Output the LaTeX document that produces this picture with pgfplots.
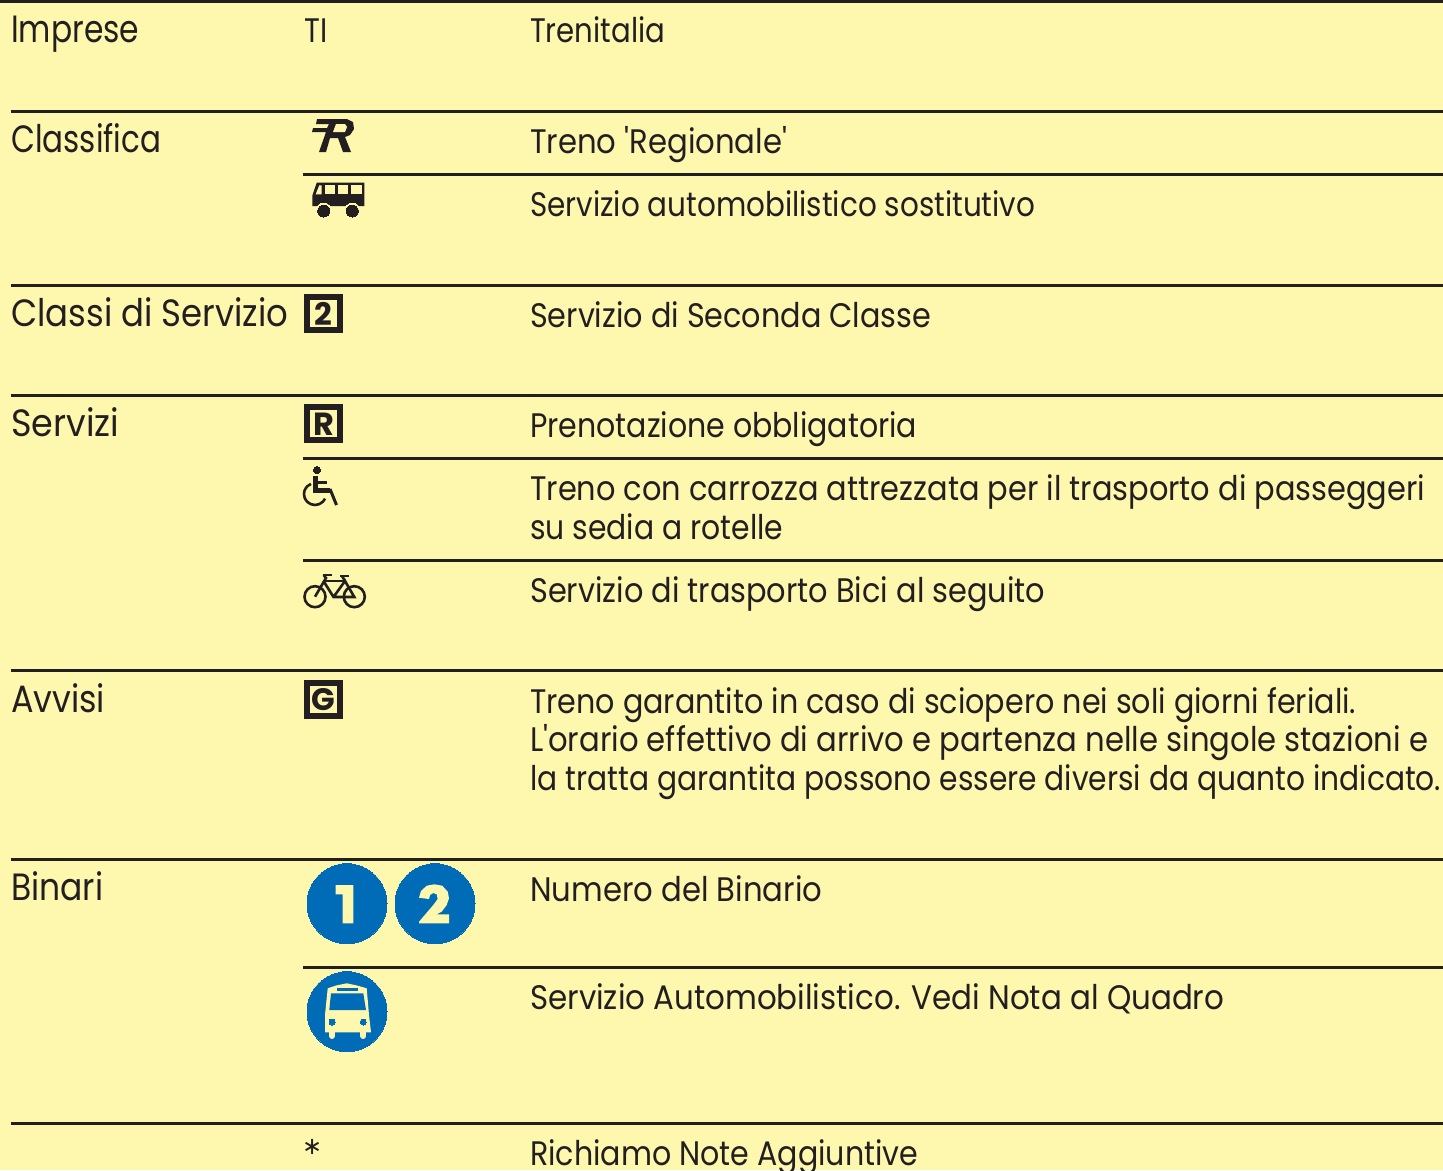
\documentclass[border=0pt]{standalone}
\usepackage{pgfplots}
\usepackage{graphicx}
\usepackage{fontspec}
\pgfplotsset{compat=1.18}
\setmainfont{Poppins}[BoldFont=* Bold,ItalicFont=* Italic,BoldItalicFont=* Bold Italic]
\newfontfamily\straight{Poppins}
\newfontfamily\sym{DejaVu Sans}
\definecolor{bg}{HTML}{FEF7AE}
\definecolor{ink}{HTML}{231F20}
\definecolor{blu}{HTML}{006BB6}
\newcommand{\Ta}[4]{\node[anchor=base west,inner sep=0pt,text=ink,font=\fontsize{38}{38}\selectfont] at (axis cs:#1,#2) {\resizebox{#3pt}{\height}{#4}};}
\newcommand{\Tb}[4]{\node[anchor=base west,inner sep=0pt,text=ink,font=\fontsize{34}{34}\selectfont] at (axis cs:#1,#2) {\resizebox{#3pt}{\height}{#4}};}
\newcommand{\ap}{{\straight\char39}}
\pgfplotsset{page/.style={at={(0,0)},anchor=south west,scale only axis,width=1443pt,height=1170pt,
  xmin=0,xmax=1443,ymin=0,ymax=1170,y dir=reverse,hide axis,clip=false}}
\begin{document}
\begin{tikzpicture}[x=1pt,y=1pt]
\useasboundingbox (0,0) rectangle (1443pt,1170pt);
\clip (0,0) rectangle (1443pt,1170pt);
\fill[bg] (0,0) rectangle (1443pt,1170pt);
\begin{axis}[page]
% blue discs lie under the glyphs of the second axis
\addplot[only marks,mark=*,mark size=40pt,mark options={draw=blu,line width=0pt,fill=blu}] coordinates {(347,903.7) (435,903.7) (347,1011.7)};
\end{axis}
\begin{axis}[page]
% rules
\addplot[ink,line width=3pt] coordinates {(0,1) (1443,1)};
\addplot[ink,line width=3pt] coordinates {(11,111) (1443,111)};
\addplot[ink,line width=3pt] coordinates {(303,174) (1443,174)};
\addplot[ink,line width=3pt] coordinates {(11,285) (1443,285)};
\addplot[ink,line width=3pt] coordinates {(11,395) (1443,395)};
\addplot[ink,line width=3pt] coordinates {(303,458) (1443,458)};
\addplot[ink,line width=3pt] coordinates {(303,560) (1443,560)};
\addplot[ink,line width=3pt] coordinates {(11,670) (1443,670)};
\addplot[ink,line width=3pt] coordinates {(11,859) (1443,859)};
\addplot[ink,line width=3pt] coordinates {(303,967) (1443,967)};
\addplot[ink,line width=3pt] coordinates {(11,1123) (1443,1123)};
% first column
\Ta{11}{42}{128}{Imprese}
\Ta{11}{152}{150}{Classifica}
\Ta{11}{326}{277}{Classi di Servizio}
\Ta{11}{436}{108}{Servizi}
\Ta{11}{712}{94}{Avvisi}
\Ta{11}{900}{92}{Binari}
% codes
\Tb{304}{42}{23}{TI}
\node[anchor=base west,inner sep=0pt,text=ink,font=\sym\fontsize{24}{24}\selectfont] at (axis cs:302,1154) {∗};
% descriptions
\Tb{530}{42}{135}{Trenitalia}
\Tb{530}{153}{257}{Treno \ap Regionale\ap}
\Tb{530}{216}{505}{Servizio automobilistico sostitutivo}
\Tb{530}{327}{401}{Servizio di Seconda Classe}
\Tb{530}{437}{387}{Prenotazione obbligatoria}
\Tb{530}{500}{895}{Treno con carrozza attrezzata per il trasporto di passeggeri}
\Tb{530}{539}{253}{su sedia a rotelle}
\Tb{530}{602}{515}{Servizio di trasporto Bici al seguito}
\Tb{530}{713}{826}{Treno garantito in caso di sciopero nei soli giorni feriali.}
\Tb{530}{751}{898}{L\ap orario effettivo di arrivo e partenza nelle singole stazioni e}
\Tb{530}{790}{911}{la tratta garantita possono essere diversi da quanto indicato.}
\Tb{530}{901}{292}{Numero del Binario}
\Tb{530}{1009}{694}{Servizio Automobilistico. Vedi Nota al Quadro}
\Tb{530}{1165}{388}{Richiamo Note Aggiuntive}
% regionale mark
\addplot[fill=ink,draw=none] coordinates {(317,119) (347,119) (353,122) (354,129) (350,135) (345,137) (351,152) (343,152) (338,138) (330,138) (326,152) (319,152) (326,132) (312,132) (313,128) (327,128) (329,124) (316,124)};
\addplot[fill=bg,draw=none] coordinates {(336,124) (345,124) (347,127) (345,132) (333,132)};
% bus
\addplot[fill=ink,draw=none] coordinates {(316.7,182.7) (364.3,182.7) (364.3,206) (312.3,206) (312.3,195.7)};
\addplot[fill=bg,draw=none] coordinates {(315.7,194.3) (319.3,185.3) (321.7,185.3) (321.7,194.3)};
\addplot[fill=bg,draw=none] coordinates {(325,185.3) (335,185.3) (335,194.3) (325,194.3)};
\addplot[fill=bg,draw=none] coordinates {(337.7,185.3) (348.3,185.3) (348.3,194.3) (337.7,194.3)};
\addplot[fill=bg,draw=none] coordinates {(351,185.3) (361.7,185.3) (361.7,194.3) (351,194.3)};
\addplot[only marks,mark=*,mark size=8pt,mark options={draw=bg,line width=0pt,fill=bg}] coordinates {(323.7,211) (352.3,211)};
\addplot[only marks,mark=*,mark size=6pt,mark options={draw=ink,line width=0pt,fill=ink}] coordinates {(323.7,211) (352.3,211)};
% boxes
\addplot[ink,line width=6pt,fill=none] coordinates {(307,297) (340,297) (340,330) (307,330) (307,297) (340,297)};
\node[text=ink,font=\bfseries\fontsize{31}{31}\selectfont,inner sep=0pt] at (axis cs:323.5,314) {2};
\addplot[ink,line width=6pt,fill=none] coordinates {(307,407) (340,407) (340,440) (307,440) (307,407) (340,407)};
\node[text=ink,font=\bfseries\fontsize{32}{32}\selectfont,inner sep=0pt] at (axis cs:323.5,424) {R};
\addplot[ink,line width=6pt,fill=none] coordinates {(307,683) (340,683) (340,716) (307,716) (307,683) (340,683)};
\node[text=ink,font=\bfseries\fontsize{31}{31}\selectfont,inner sep=0pt] at (axis cs:323.5,700) {G};
% wheelchair
\addplot[only marks,mark=*,mark size=3.6pt,mark options={draw=ink,line width=0pt,fill=ink}] coordinates {(317,470)};
\addplot[ink,line width=5pt] coordinates {(315.7,476) (315.7,490) (330,490)};
\addplot[ink,line width=3pt] coordinates {(330,489) (336.5,505)};
\addplot[ink,line width=3pt] coordinates {(316,482) (327,482)};
\addplot[ink,line width=2.6pt,smooth] coordinates {(311,484) (307,486.5) (304.5,490.7) (304,494) (304.6,497.6) (307,501.5) (311,504.2) (315,505) (319,504.2) (323,501.5) (325,498.6)};
% bike
\addplot[only marks,mark=o,mark size=10.5pt,mark options={draw=ink,line width=2.6pt,fill=none}] coordinates {(315,596.7) (354.3,596.7)};
\addplot[ink,line width=2.6pt] coordinates {(315,596.7) (326,578) (323.5,575)};
\addplot[ink,line width=2.6pt] coordinates {(323,575) (332,575)};
\addplot[ink,line width=2.6pt] coordinates {(324,581) (345,581)};
\addplot[ink,line width=2.6pt] coordinates {(323.5,581) (333.5,597) (354.3,597) (345,581) (333.5,597)};
\addplot[ink,line width=2.6pt] coordinates {(345,581) (342,576)};
\addplot[ink,line width=2.6pt] coordinates {(340,576) (349,576)};
% numbers in the discs
\addplot[fill=bg,draw=none] coordinates {(335.7,885) (353.3,885) (353.3,923.3) (342.7,923.3) (342.7,894.3) (335.7,894.3)};
\addplot[fill=bg,draw=none] coordinates {(419,897.7) (421,891) (426.7,885.7) (434.3,884.3) (442.3,885.7) (447.7,891.7) (449,898.3) (446.7,905) (441.7,911.7) (436.7,914.3) (449,914.3) (449,923.3) (419,923.3) (419,921.7) (433.3,905) (437.7,899) (436.7,894.3) (433.3,893) (430,895) (429,899)};
% bus in disc
\addplot[fill=bg,draw=none] coordinates {(327.7,988.3) (336,985.5) (346.7,983.3) (357,985.5) (366.7,988.3) (369,1015) (371,1032.3) (325,1032.3) (325,1015)};
\addplot[bg,line width=6pt,line cap=round] coordinates {(332,1032) (332,1036)};
\addplot[bg,line width=6pt,line cap=round] coordinates {(363.3,1032) (363.3,1036)};
\addplot[fill=blu,draw=none] coordinates {(331,993.3) (363.3,993.3) (366,1010) (329.3,1010)};
\addplot[fill=blu,draw=none] coordinates {(337.3,988.3) (358.3,988.3) (358.3,990.6) (337.3,990.6)};
\addplot[only marks,mark=*,mark size=3pt,mark options={draw=blu,line width=0pt,fill=blu}] coordinates {(332,1022) (363.3,1022)};
\end{axis}
\end{tikzpicture}
\end{document}
